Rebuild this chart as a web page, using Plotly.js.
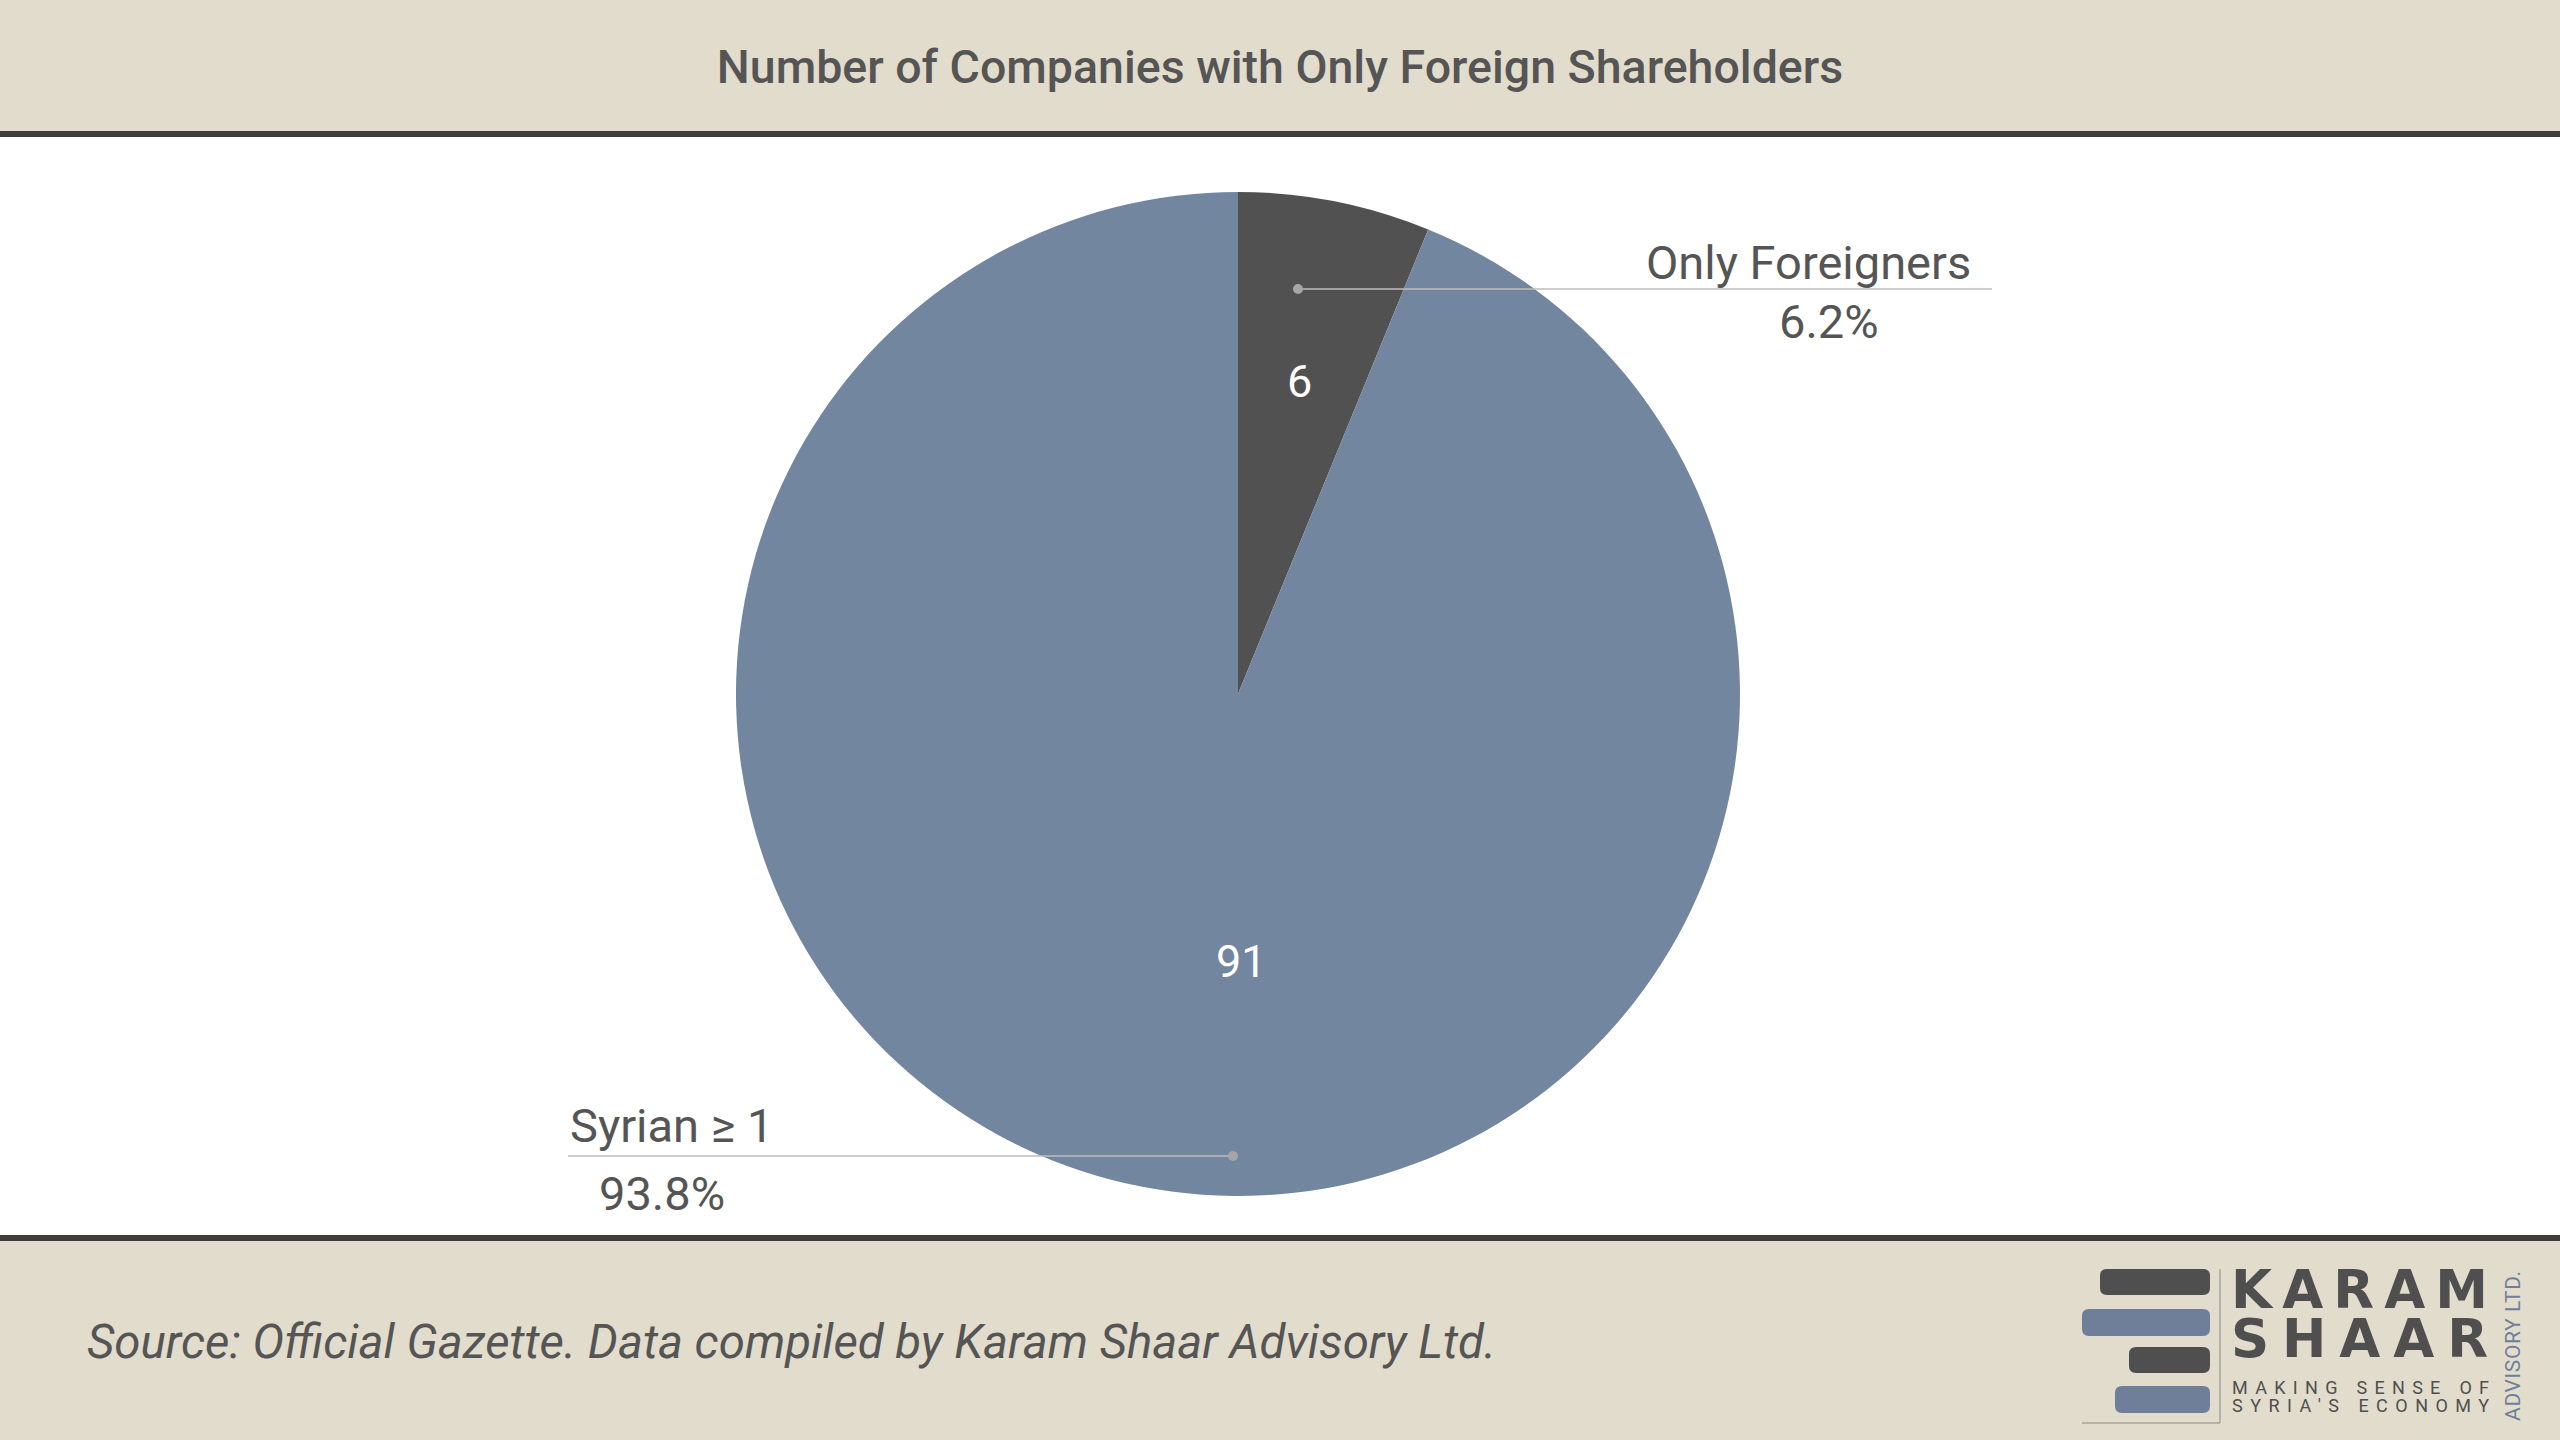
<!DOCTYPE html>
<html>
<head>
<meta charset="utf-8">
<script src="https://cdn.plot.ly/plotly-3.0.1.min.js"></script>
<style>
  html, body { margin: 0; padding: 0; background: #ffffff; }
  #chart { width: 2560px; height: 1440px; }
</style>
</head>
<body>
<div id="chart"></div>
<script>
// ---- data ----
const categories = ["Only Foreigners", "Syrian \u2265 1"];
const counts = [6, 91];
const sliceColors = ["#515151", "#7286a0"];
const chartTitle = "Number of Companies with Only Foreign Shareholders";
const sourceNote = "Source: Official Gazette. Data compiled by Karam Shaar Advisory Ltd.";
const logoName = ["KARAM", "SHAAR"];
const logoTagline = ["MAKING SENSE OF", "SYRIA'S ECONOMY"];
const logoSide = "ADVISORY LTD.";

// ---- helpers (pixel -> paper) ----
const W = 2560, H = 1440;
const X = px => px / W;
const Y = py => 1 - py / H;
const total = counts.reduce((a, b) => a + b, 0);
const pct = counts.map(v => (v / total * 100).toFixed(1) + "%");

// pie geometry (pixels)
const CX = 1238, CY = 694, R = 502;

const FONT = "Roboto, 'Noto Sans', sans-serif";
const LOGOFONT = "'DejaVu Sans', Roboto, sans-serif";
const TXT = "#555555";
const BEIGE = "#e2dccd";
const RULE = "#3d3d3b";
const LOGO_DARK = "#4f4f4f";
const LOGO_BLUE = "#6f7f99";

function rrect(x0, y0, x1, y1, r, color) {
  const rx = r / W, ry = r / H;
  const a = X(x0), b = X(x1), t = Y(y0), u = Y(y1);
  const path = `M ${a + rx} ${t} L ${b - rx} ${t} Q ${b} ${t} ${b} ${t - ry} L ${b} ${u + ry} Q ${b} ${u} ${b - rx} ${u} L ${a + rx} ${u} Q ${a} ${u} ${a} ${u + ry} L ${a} ${t - ry} Q ${a} ${t} ${a + rx} ${t} Z`;
  return { type: "path", xref: "paper", yref: "paper", path: path, fillcolor: color, line: { width: 0 } };
}

// inside label for the small slice at its mid-angle
const midAngle0 = (counts[0] / total) * Math.PI; // radians, clockwise from 12 o'clock
const lab0x = CX + 0.635 * R * Math.sin(midAngle0);
const lab0y = CY - 0.635 * R * Math.cos(midAngle0);

const shapes = [
  { type: "rect", xref: "paper", yref: "paper", x0: 0, x1: 1, y0: Y(131), y1: 1, fillcolor: BEIGE, line: { width: 0 }, layer: "below" },
  { type: "rect", xref: "paper", yref: "paper", x0: 0, x1: 1, y0: Y(137), y1: Y(131), fillcolor: RULE, line: { width: 0 }, layer: "below" },
  { type: "rect", xref: "paper", yref: "paper", x0: 0, x1: 1, y0: 0, y1: Y(1241), fillcolor: BEIGE, line: { width: 0 }, layer: "below" },
  { type: "rect", xref: "paper", yref: "paper", x0: 0, x1: 1, y0: Y(1241), y1: Y(1235), fillcolor: RULE, line: { width: 0 }, layer: "below" },
  // leader lines
  { type: "line", xref: "paper", yref: "paper", x0: X(1298), x1: X(1992), y0: Y(289), y1: Y(289), line: { color: "#bdbdbd", width: 1.5 } },
  { type: "circle", xref: "paper", yref: "paper", x0: X(1293), x1: X(1303), y0: Y(284), y1: Y(294), fillcolor: "#a6a6a6", line: { width: 0 } },
  { type: "line", xref: "paper", yref: "paper", x0: X(568), x1: X(1233), y0: Y(1156), y1: Y(1156), line: { color: "#bdbdbd", width: 1.5 } },
  { type: "circle", xref: "paper", yref: "paper", x0: X(1228), x1: X(1238), y0: Y(1151), y1: Y(1161), fillcolor: "#a6a6a6", line: { width: 0 } },
  // logo bars
  rrect(2100, 1269, 2210, 1295, 7, LOGO_DARK),
  rrect(2082, 1309, 2210, 1336, 7, LOGO_BLUE),
  rrect(2129, 1347, 2210, 1373, 7, LOGO_DARK),
  rrect(2115, 1386, 2210, 1413, 7, LOGO_BLUE),
  { type: "line", xref: "paper", yref: "paper", x0: X(2220), x1: X(2220), y0: Y(1269), y1: Y(1423), line: { color: "#8a8a8a", width: 1 } },
  { type: "line", xref: "paper", yref: "paper", x0: X(2082), x1: X(2220), y0: Y(1423), y1: Y(1423), line: { color: "#8a8a8a", width: 1 } }
];

const NAME_SIZE = 53, TAG_SIZE = 18;
const annotations = [
  // inside values
  { text: String(counts[0]), x: X(lab0x), y: Y(lab0y), xref: "paper", yref: "paper", xanchor: "center", yanchor: "middle", showarrow: false, font: { family: FONT, size: 45, color: "#ffffff" } },
  { text: String(counts[1]), x: X(1241), y: Y(962), xref: "paper", yref: "paper", xanchor: "center", yanchor: "middle", showarrow: false, font: { family: FONT, size: 45, color: "#ffffff" } },
  // outside labels
  { text: categories[0], x: X(1808), y: Y(262), xref: "paper", yref: "paper", xanchor: "center", yanchor: "middle", showarrow: false, font: { family: FONT, size: 47, color: TXT } },
  { text: pct[0], x: X(1829), y: Y(321), xref: "paper", yref: "paper", xanchor: "center", yanchor: "middle", showarrow: false, font: { family: FONT, size: 47, color: TXT } },
  { text: categories[1], x: X(671), y: Y(1125), xref: "paper", yref: "paper", xanchor: "center", yanchor: "middle", showarrow: false, font: { family: FONT, size: 47, color: TXT } },
  { text: pct[1], x: X(662), y: Y(1193), xref: "paper", yref: "paper", xanchor: "center", yanchor: "middle", showarrow: false, font: { family: FONT, size: 47, color: TXT } },
  // source
  { text: "<i>" + sourceNote + "</i>", x: X(85), y: Y(1342), xref: "paper", yref: "paper", xanchor: "left", yanchor: "middle", showarrow: false, font: { family: FONT, size: 47.4, color: TXT } },
  // logo text
  { text: logoName.join("<br>"), x: X(2229), y: Y(1290 + 0.65 * NAME_SIZE), xref: "paper", yref: "paper", xanchor: "left", yanchor: "middle", align: "left", showarrow: false, font: { family: LOGOFONT, size: NAME_SIZE, weight: 700, color: LOGO_DARK } },
  { text: logoTagline.join("<br>"), x: X(2230), y: Y(1387 + 0.65 * TAG_SIZE), xref: "paper", yref: "paper", xanchor: "left", yanchor: "middle", align: "left", showarrow: false, font: { family: FONT, size: TAG_SIZE, color: LOGO_DARK } },
  { text: logoSide, x: X(2513), y: Y(1346), xref: "paper", yref: "paper", xanchor: "center", yanchor: "middle", textangle: -90, showarrow: false, font: { family: FONT, size: 21, color: LOGO_BLUE } }
];

const trace = {
  type: "pie",
  labels: categories,
  values: counts,
  sort: false,
  direction: "clockwise",
  rotation: 0,
  marker: { colors: sliceColors, line: { width: 0 } },
  textinfo: "none",
  hoverinfo: "label+value+percent",
  showlegend: false,
  domain: { x: [X(CX - R), X(CX + R)], y: [Y(CY + R), Y(CY - R)] }
};

const layout = {
  width: W,
  height: H,
  margin: { l: 0, r: 0, t: 0, b: 0, pad: 0 },
  paper_bgcolor: "#ffffff",
  plot_bgcolor: "#ffffff",
  showlegend: false,
  title: {
    text: chartTitle,
    x: 0.5,
    xanchor: "center",
    y: Y(67),
    yanchor: "middle",
    font: { family: FONT, size: 46.5, weight: 500, color: TXT }
  },
  shapes: shapes,
  annotations: annotations
};

function fitSpacing(el, target) {
  const n = el.textContent.length;
  el.style.letterSpacing = "0px";
  const len = el.getComputedTextLength();
  const s = (target - len) / Math.max(1, n - 1);
  el.style.letterSpacing = s.toFixed(2) + "px";
}

Plotly.newPlot("chart", [trace], layout, { displayModeBar: false, staticPlot: true }).then(() => {
  document.querySelectorAll(".annotation-text").forEach(el => {
    const t = el.textContent;
    if (t === logoName.join("")) {
      const lines = el.querySelectorAll("tspan.line");
      lines.forEach((ln, i) => {
        if (i > 0) ln.setAttribute("dy", (49 * i) + "px");
        fitSpacing(ln, 257);
      });
    } else if (t === logoTagline.join("")) {
      const lines = el.querySelectorAll("tspan.line");
      lines.forEach((ln, i) => {
        if (i > 0) ln.setAttribute("dy", (18 * i) + "px");
        fitSpacing(ln, 257);
      });
    } else if (t === logoSide) {
      fitSpacing(el, 150);
    }
  });
});
</script>
</body>
</html>
